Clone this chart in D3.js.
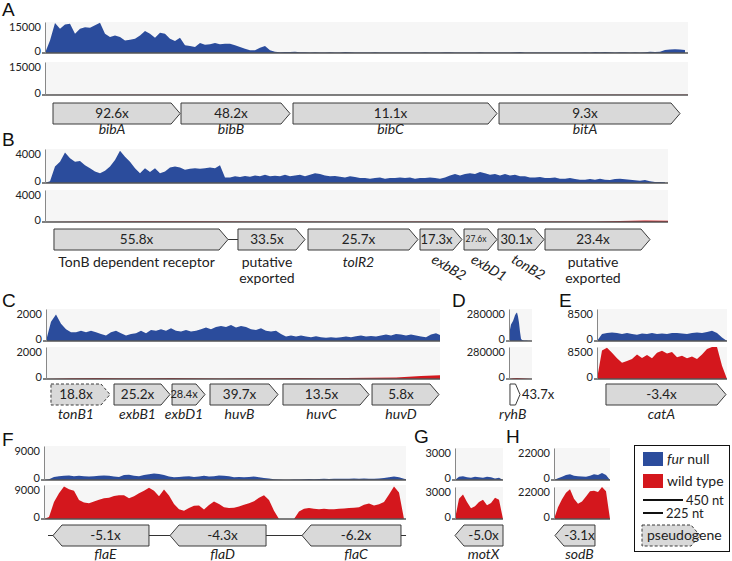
<!DOCTYPE html>
<html>
<head>
<meta charset="utf-8">
<script src="https://cdn.jsdelivr.net/npm/d3@7"></script>
<style>
  body { margin: 0; background: #fff; }
  svg { display: block; }
</style>
</head>
<body>
<svg id="fig" width="732" height="561"></svg>
<script>
// one genome scale for every panel (legend bar: 450 nt)
const NT_PER_PX = 11.25;
const FONT = "Lato, 'Open Sans', sans-serif";
const BLUE = "#2b4c9c", RED = "#d4171d";

// ---- read coverage, sampled every "bin" nt from the panel start ----
const binFine = 56.25, binCoarse = 562.5;

const covA_fur = [0,6000,14500,11700,13800,14200,9300,11700,12500,12200,
  13400,14600,9300,7700,8500,7700,6100,6400,6900,8500,
  10600,9300,7400,9800,9300,6900,5800,7400,3700,3400,
  2900,4800,4000,4200,4800,4200,4500,4500,3700,2900,
  2100,1300,1300,2600,3400,1300,650,400,450,500,
  550,400,
  350,300,400,250,300,350,200,300,450,350,
  300,250,200,300,350,300,250,200,300,250,
  200,300,250,200,350,300,250,300,400,350,
  300,250,200,300,250,350,300,250,200,300,
  250,300,350,500,300,250,200,250,300,250,
  200,250,300,250,200,300,350,300,450,350,
  500,400,300,350,400,300,350,300,400,650,
  500,600,1400,1700,1800,1700,1400];
const covA_wt = [0,80,100,60,80,50,40,30,50,30,40,60,120,150];

const covB_fur = [0,200,1940,2500,3600,2900,2500,2600,2100,1750,
  1360,1160,1440,1940,2700,3800,3100,2500,1750,1160,
  1750,1280,1750,1160,1360,1820,1940,1820,1550,1670,
  1750,1670,1750,1820,1750,2100,660,660,780,700,
  810,740,890,780,970,780,850,780,970,780,
  890,970,780,970,1160,1050,890,780,810,740,
  660,780,700,580,580,500,580,660,500,580,
  580,660,580,660,500,580,580,660,580,500,
  660,890,1050,890,1050,1160,1050,1280,1160,970,
  1050,890,1050,890,970,780,780,660,660,700,
  580,580,660,500,500,580,470,390,390,470,
  390,500,390,350,470,500,430,390,310,270,
  350,200,120,120,100];
const covB_wt = [0,60,80,100,60,50,40,60,50,40,60,50,200,100];

const covC_fur = [0,1200,1650,1080,740,540,540,640,540,640,
  540,440,340,540,640,480,340,440,480,640,
  480,680,640,740,640,800,640,600,680,600,
  640,740,840,740,880,940,880,1000,840,940,
  880,740,680,800,640,600,640,440,280,340,
  280,340,280,240,300,240,200,240,200,240,
  280,240,300,340,280,320,280,340,400,340,
  440,400,340,400,340,280,240,400,480,340];
const binC_wt = 281.25;
const covC_wt = [0,40,60,50,40,60,40,30,40,50,60,50,60,80,100,180,250];

const binD_fur = 11.25, binD_wt = 45;
const covD_fur = [0,100000,145000,160000,175000,200000,225000,240000,250000,215000,
  160000,80000,20000,8000,6000,5000,5000,4000,4000,3000,3000,2000,1000,0];
const covD_wt = [0,6000,8000,7000,5000,3000,0];

const covE_fur = [0,1830,2100,2290,2100,1830,2100,1830,1650,2000,
  1830,2100,1830,2000,1830,2100,2100,2000,1830,2100,
  2290,2100,2380,2740,2100,900,0];
const covE_wt = [0,7600,8300,7000,5500,4300,4800,5300,6500,5600,
  6400,5500,7000,7500,6800,7200,5800,6200,5500,6000,
  5300,6500,8000,8500,8500,3500,0];

const covF_fur = [0,200,800,1000,1100,1200,1000,1100,1000,900,
  1000,1100,1200,1100,900,800,1300,1400,1100,1000,
  1300,1500,1700,1600,1300,900,700,800,900,1000,
  800,900,1100,900,1000,1200,1100,1000,700,800,
  700,800,900,700,500,400,200,100,50,50,
  100,150,200,250,200,250,300,250,300,350,
  300,350,400,350,400,350,300,400,500,700,
  900,700,300,0];
const covF_wt = [0,500,4500,6800,8600,7900,7500,5000,4400,4200,
  4600,5100,5500,5600,6100,6300,6300,5500,6000,6800,
  7500,8300,7500,6000,7800,6200,4000,2600,2200,2900,
  3500,3600,2500,3700,4600,4000,3100,2900,3000,3300,
  3800,4200,4700,5600,6300,5000,2200,0,0,0,
  0,2000,2700,2900,2700,2600,2700,2600,2600,2700,
  2800,2900,3000,3100,3800,4100,3600,3900,4500,6500,
  8600,7000,0,0];

const binSmall = 45;
const covG_fur = [0,300,350,250,200,300,250,200,300,250,150,200,0];
const covG_wt = [0,1900,2300,1600,1000,1200,1600,1800,1300,1500,2000,1800,0];
const covH_fur = [0,1200,2300,3400,3900,3000,2600,2400,2200,3000,3900,3400,4800,3500,0];
const covH_wt = [0,8000,13500,18000,20500,14000,10500,12000,15500,19000,19500,18500,22000,19000,0];

// ---- genes: nt from panel start, strand, fold change fur null vs wild type ----
const genesA = [
  {name: "bibA", fold: "92.6x", start: 90, end: 1520, strand: 1},
  {name: "bibB", fold: "48.2x", start: 1530, end: 2756, strand: 1},
  {name: "bibC", fold: "11.1x", start: 2790, end: 5085, strand: 1},
  {name: "bitA", fold: "9.3x", start: 5108, end: 7144, strand: 1}
];
const genesB = [
  {name: "TonB dependent receptor", fold: "55.8x", start: 101, end: 2059, strand: 1},
  {name: "putative\nexported", fold: "33.5x", start: 2171, end: 2925, strand: 1},
  {name: "tolR2", fold: "25.7x", start: 2959, end: 4196, strand: 1},
  {name: "exbB2", fold: "17.3x", start: 4219, end: 4691, strand: 1},
  {name: "exbD1", fold: "27.6x", start: 4714, end: 5085, strand: 1},
  {name: "tonB2", fold: "30.1x", start: 5096, end: 5614, strand: 1},
  {name: "putative\nexported", fold: "23.4x", start: 5625, end: 6806, strand: 1}
];
const linksB = [[2059, 2171]];
const genesC = [
  {name: "tonB1", fold: "18.8x", start: 56, end: 720, strand: 1, pseudo: true},
  {name: "exbB1", fold: "25.2x", start: 765, end: 1395, strand: 1},
  {name: "exbD1", fold: "28.4x", start: 1418, end: 1789, strand: 1},
  {name: "huvB", fold: "39.7x", start: 1845, end: 2610, strand: 1},
  {name: "huvC", fold: "13.5x", start: 2666, end: 3634, strand: 1},
  {name: "huvD", fold: "5.8x", start: 3668, end: 4421, strand: 1}
];
const genesD = [{name: "ryhB", fold: "43.7x", start: 11, end: 124, strand: 1}];
const genesE = [{name: "catA", fold: "-3.4x", start: 101, end: 1451, strand: 1}];
const genesF = [
  {name: "flaE", fold: "-5.1x", start: 101, end: 1181, strand: -1},
  {name: "flaD", fold: "-4.3x", start: 1418, end: 2498, strand: -1},
  {name: "flaC", fold: "-6.2x", start: 2903, end: 4016, strand: -1}
];
const linksF = [[45, 4073]];
const genesG = [{name: "motX", fold: "-5.0x", start: 0, end: 540, strand: -1}];
const genesH = [{name: "sodB", fold: "-3.1x", start: 11, end: 461, strand: -1}];

// ---- layout ----
const panels = [
  {letter: "A", lx: 2, ly: 16, x0: 45, x1: 688, top: [22, 62], base: [53, 95], max: 15000,
   fur: covA_fur, furBin: binFine, wt: covA_wt, wtBin: binCoarse, genes: genesA, gy: 103, nameY: 134},
  {letter: "B", lx: 2, ly: 146, x0: 45, x1: 668, top: [149, 190], base: [183, 222], max: 4000,
   fur: covB_fur, furBin: binFine, wt: covB_wt, wtBin: binCoarse, genes: genesB, gy: 229, nameY: 267,
   links: linksB, slant: ["exbB2", "exbD1", "tonB2"], foldSize: {"27.6x": 8.5, "17.3x": 13, "30.1x": 13}},
  {letter: "C", lx: 2, ly: 307, x0: 46, x1: 440, top: [309, 347], base: [341, 379], max: 2000,
   fur: covC_fur, furBin: binFine, wt: covC_wt, wtBin: binC_wt, genes: genesC, gy: 384, nameY: 419,
   foldSize: {"28.4x": 11}},
  {letter: "D", lx: 452, ly: 307, x0: 509, x1: 532, top: [309, 347], base: [341, 379], max: 280000,
   fur: covD_fur, furBin: binD_fur, wt: covD_wt, wtBin: binD_wt, genes: genesD, gy: 384, nameY: 419,
   open: true},
  {letter: "E", lx: 559, ly: 307, x0: 597, x1: 727, top: [309, 347], base: [341, 379], max: 8500,
   fur: covE_fur, furBin: binFine, wt: covE_wt, wtBin: binFine, genes: genesE, gy: 384, nameY: 419},
  {letter: "F", lx: 2, ly: 446, x0: 44, x1: 406, top: [446, 485], base: [480, 519], max: 9000,
   fur: covF_fur, furBin: binFine, wt: covF_wt, wtBin: binFine, genes: genesF, gy: 525, nameY: 559,
   links: linksF},
  {letter: "G", lx: 414, ly: 443, x0: 455, x1: 503, top: [448, 487], base: [480, 519], max: 3000,
   fur: covG_fur, furBin: binSmall, wt: covG_wt, wtBin: binSmall, genes: genesG, gy: 525, nameY: 559},
  {letter: "H", lx: 506, ly: 443, x0: 554, x1: 610, top: [448, 487], base: [480, 519], max: 22000,
   fur: covH_fur, furBin: binSmall, wt: covH_wt, wtBin: binSmall, genes: genesH, gy: 525, nameY: 559}
];

const GH = 21;
const svg = d3.select("#fig");

function geneGeom(x0, x1, top, h, strand) {
  const tip = Math.min(9, (x1 - x0) * 0.45);
  const mid = top + h / 2, bot = top + h;
  return strand > 0
    ? `M${x0},${top}H${x1 - tip}L${x1},${mid}L${x1 - tip},${bot}H${x0}Z`
    : `M${x1},${top}H${x0 + tip}L${x0},${mid}L${x0 + tip},${bot}H${x1}Z`;
}

function drawPanel(p, idx) {
  const g = svg.append("g");
  const x = d3.scaleLinear().domain([0, (p.x1 - p.x0) * NT_PER_PX]).range([p.x0, p.x1]);

  g.append("text").attr("x", p.lx).attr("y", p.ly)
    .attr("font-family", "'Liberation Sans', Arial, sans-serif").attr("font-size", 19)
    .attr("fill", "#111").text(p.letter);

  // two coverage tracks: fur null on top, wild type below
  [[p.fur, p.furBin, BLUE], [p.wt, p.wtBin, RED]].forEach(([cov, bin, col], i) => {
    const top = p.top[i], base = p.base[i];
    const y = d3.scaleLinear().domain([0, p.max]).range([base, top]).clamp(true);

    g.append("rect").attr("x", p.x0).attr("y", top)
      .attr("width", p.x1 - p.x0).attr("height", base - top).attr("fill", "#f6f6f6");

    const cid = `clip${idx}_${i}`;
    g.append("clipPath").attr("id", cid).append("rect")
      .attr("x", p.x0).attr("y", top - 1).attr("width", p.x1 - p.x0).attr("height", base - top + 1);

    g.append("path").datum(cov)
      .attr("clip-path", `url(#${cid})`)
      .attr("fill", col)
      .attr("d", d3.area().x((d, j) => x(j * bin)).y0(base).y1(d => y(d)));

    g.append("line").attr("x1", p.x0 - 3).attr("x2", p.x1).attr("y1", base).attr("y2", base)
      .attr("stroke", "#555").attr("stroke-width", 1.4);

    const ax = g.append("g").attr("transform", `translate(${p.x0},0)`)
      .call(d3.axisLeft(y).tickValues([0, p.max]).tickSize(0).tickPadding(4).tickFormat(d3.format("d")));
    ax.select(".domain").attr("stroke", "#888");
    ax.selectAll("text").attr("font-size", 11).attr("font-family", FONT).attr("fill", "#222")
      .attr("dy", d => d === 0 ? "0.1em" : "0.78em");
  });

  // genes
  const gm = p.gy + GH / 2;
  (p.links || []).forEach(l => {
    g.append("line").attr("x1", x(l[0])).attr("x2", x(l[1])).attr("y1", gm).attr("y2", gm)
      .attr("stroke", "#333").attr("stroke-width", 1);
  });

  p.genes.forEach(d => {
    const gx0 = x(d.start), gx1 = x(d.end);
    const tip = Math.min(9, (gx1 - gx0) * 0.45);
    const cx = d.strand > 0 ? (gx0 + gx1 - tip) / 2 : (gx0 + tip + gx1) / 2;

    g.append("path").attr("d", geneGeom(gx0, gx1, p.gy, GH, d.strand))
      .attr("fill", p.open ? "#fff" : "#d9d9d9")
      .attr("stroke", "#3a3a3a").attr("stroke-width", 1)
      .attr("stroke-dasharray", d.pseudo ? "3,2" : null);

    const fsz = (p.foldSize && p.foldSize[d.fold]) || 13.5;
    if (p.open) {
      g.append("text").attr("x", gx1 + 2).attr("y", gm).attr("dy", "0.35em")
        .attr("font-family", FONT).attr("font-size", 13).attr("fill", "#222").text(d.fold);
    } else {
      g.append("text").attr("x", cx).attr("y", gm).attr("dy", "0.35em").attr("text-anchor", "middle")
        .attr("font-family", FONT).attr("font-size", fsz).attr("fill", "#222").text(d.fold);
    }

    const italic = !(d.name.includes(" ") || d.name.includes("\n"));
    if (p.slant && p.slant.includes(d.name)) {
      g.append("text").attr("transform", `translate(${cx - 6},${p.nameY - 5}) rotate(31)`)
        .attr("font-family", FONT).attr("font-size", 14).attr("font-style", "italic")
        .attr("fill", "#222").text(d.name);
    } else {
      const t = g.append("text").attr("text-anchor", "middle")
        .attr("font-family", FONT).attr("font-size", 14)
        .attr("font-style", italic ? "italic" : "normal").attr("fill", "#222");
      d.name.split("\n").forEach((s, k) => {
        t.append("tspan").attr("x", cx).attr("y", p.nameY + k * 16).text(s);
      });
    }
  });
}

panels.forEach(drawPanel);

// ---- legend ----
const lg = svg.append("g");
lg.append("rect").attr("x", 634.5).attr("y", 445.5).attr("width", 95).attr("height", 106)
  .attr("fill", "#fff").attr("stroke", "#111").attr("stroke-width", 1);
lg.append("rect").attr("x", 643).attr("y", 452).attr("width", 20).attr("height", 14).attr("fill", BLUE);
const t1 = lg.append("text").attr("x", 667).attr("y", 464)
  .attr("font-family", FONT).attr("font-size", 14).attr("fill", "#222");
t1.append("tspan").attr("font-style", "italic").text("fur");
t1.append("tspan").text(" null");
lg.append("rect").attr("x", 643).attr("y", 474).attr("width", 20).attr("height", 14).attr("fill", RED);
lg.append("text").attr("x", 667).attr("y", 486)
  .attr("font-family", FONT).attr("font-size", 14).attr("fill", "#222").text("wild type");

const barScale = d3.scaleLinear().domain([0, NT_PER_PX]).range([0, 1]);
[[450, 500, "450 nt"], [225, 513, "225 nt"]].forEach(([nt, yy, lab]) => {
  const len = barScale(nt);
  lg.append("line").attr("x1", 643).attr("x2", 643 + len).attr("y1", yy).attr("y2", yy)
    .attr("stroke", "#111").attr("stroke-width", 2);
  lg.append("text").attr("x", 643 + len + 3).attr("y", yy + 4.5)
    .attr("font-family", FONT).attr("font-size", 13).attr("fill", "#222").text(lab);
});
lg.append("path").attr("d", geneGeom(642, 700, 525, GH, 1))
  .attr("fill", "#d9d9d9").attr("stroke", "#3a3a3a").attr("stroke-dasharray", "3,2");
lg.append("text").attr("x", 647).attr("y", 540)
  .attr("font-family", FONT).attr("font-size", 14).attr("fill", "#222").text("pseudogene");
</script>
</body>
</html>
